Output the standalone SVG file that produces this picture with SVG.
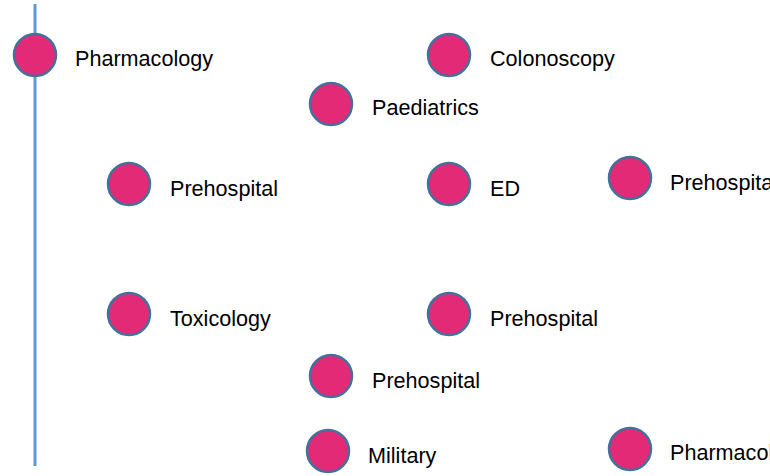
<svg xmlns="http://www.w3.org/2000/svg" width="770" height="476" viewBox="0 0 770 476">
<style>
.dot{fill:#E22A77;stroke:#41719C;stroke-width:2.5}
.lbl{font-family:"Liberation Sans",Arial,sans-serif;font-size:21.6px;fill:#000}
</style>
<rect width="770" height="476" fill="#fff"/>
<g id="connectors">
<line x1="35" y1="4" x2="35" y2="466" stroke="#5B9BD5" stroke-width="3"/>
</g>
<g id="n1"><circle class="dot" cx="35" cy="55" r="21"/><text class="lbl" x="75" y="66">Pharmacology</text></g>
<g id="n2"><circle class="dot" cx="449" cy="55" r="21"/><text class="lbl" x="490" y="66">Colonoscopy</text></g>
<g id="n3"><circle class="dot" cx="331" cy="104" r="21"/><text class="lbl" x="372" y="115">Paediatrics</text></g>
<g id="n4"><circle class="dot" cx="129" cy="184" r="21"/><text class="lbl" x="170" y="196">Prehospital</text></g>
<g id="n5"><circle class="dot" cx="449" cy="184" r="21"/><text class="lbl" x="490" y="196">ED</text></g>
<g id="n6"><circle class="dot" cx="630" cy="178" r="21"/><text class="lbl" x="670" y="190">Prehospital</text></g>
<g id="n7"><circle class="dot" cx="129" cy="314" r="21"/><text class="lbl" x="170" y="326">Toxicology</text></g>
<g id="n8"><circle class="dot" cx="449" cy="314" r="21"/><text class="lbl" x="490" y="326">Prehospital</text></g>
<g id="n9"><circle class="dot" cx="331" cy="376" r="21"/><text class="lbl" x="372" y="388">Prehospital</text></g>
<g id="n10"><circle class="dot" cx="328" cy="451" r="21"/><text class="lbl" x="368" y="463">Military</text></g>
<g id="n11"><circle class="dot" cx="630" cy="449" r="21"/><text class="lbl" x="670" y="460">Pharmacology</text></g>
</svg>
